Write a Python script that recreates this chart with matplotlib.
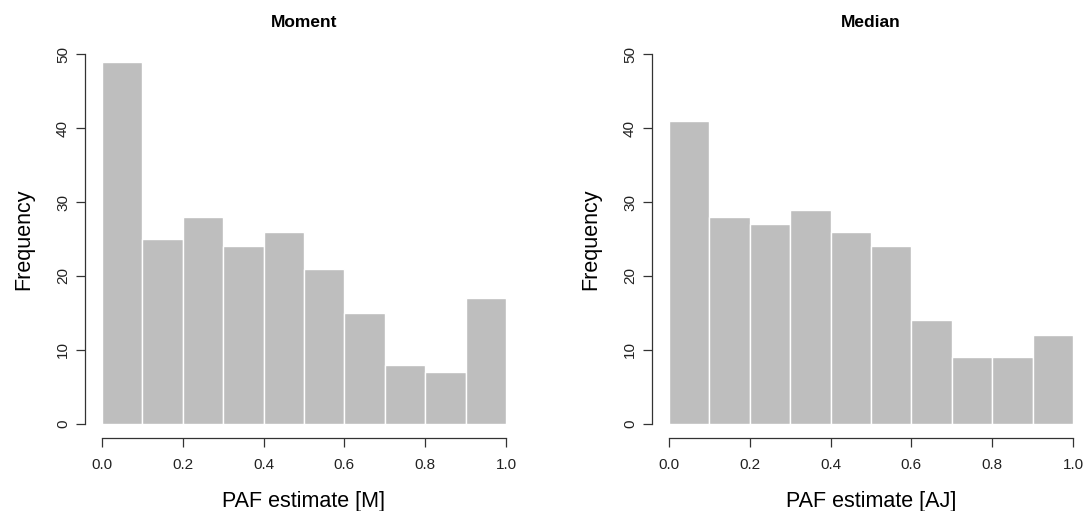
import numpy as np
import matplotlib
matplotlib.use('Agg')
import matplotlib.pyplot as plt

plt.rcParams['font.family'] = ['Liberation Sans', 'DejaVu Sans']

bin_edges = [0.0, 0.1, 0.2, 0.3, 0.4, 0.5, 0.6, 0.7, 0.8, 0.9, 1.0]
moment_counts = [49, 25, 28, 24, 26, 21, 15, 8, 7, 17]
median_counts = [41, 28, 27, 29, 26, 24, 14, 9, 9, 12]
titles = ['Moment', 'Median']
xlabels = ['PAF estimate [M]', 'PAF estimate [AJ]']
xticks = [0.0, 0.2, 0.4, 0.6, 0.8, 1.0]
yticks = [0, 10, 20, 30, 40, 50]

W, H = 1084, 511
fig = plt.figure(figsize=(W / 100, H / 100), dpi=100)
lefts = [102 / W, 669 / W]


def draw_hist(ax, counts, title, xlabel):
    edges = np.array(bin_edges)
    ax.bar(edges[:-1], counts, width=np.diff(edges), align='edge',
           color='#bebebe', edgecolor='white', linewidth=1.0)
    ax.set_xlim(0, 1)
    ax.set_ylim(0, 50)
    for s in ['top', 'right']:
        ax.spines[s].set_visible(False)
    # R-style detached axes (offsets in points)
    ax.spines['left'].set_position(('outward', 12))
    ax.spines['bottom'].set_position(('outward', 10.4))
    ax.spines['left'].set_bounds(0, 50)
    ax.spines['bottom'].set_bounds(0, 1)
    for s in ['left', 'bottom']:
        ax.spines[s].set_linewidth(0.9)
        ax.spines[s].set_color('#333333')
    ax.set_xticks(xticks)
    ax.set_xticklabels(['%.1f' % t for t in xticks])
    ax.set_yticks(yticks)
    ax.set_yticklabels([str(t) for t in yticks], rotation=90, va='center')
    ax.tick_params(axis='both', length=6.5, width=0.9, color='#333333',
                   labelsize=11, labelcolor='#222222')
    ax.tick_params(axis='x', pad=8)
    ax.tick_params(axis='y', pad=4.5)
    ax.set_title(title, fontsize=12.5, fontweight='bold', pad=20)
    ax.set_xlabel(xlabel, fontsize=15.5, labelpad=13.5)
    ax.set_ylabel('Frequency', fontsize=15.5, labelpad=15.5)


for i, counts in enumerate([moment_counts, median_counts]):
    ax = fig.add_axes([lefts[i], (H - 423.6) / H, 404 / W, (423.6 - 54.5) / H])
    draw_hist(ax, counts, titles[i], xlabels[i])

plt.savefig('out.png', dpi=100)
plt.close()
